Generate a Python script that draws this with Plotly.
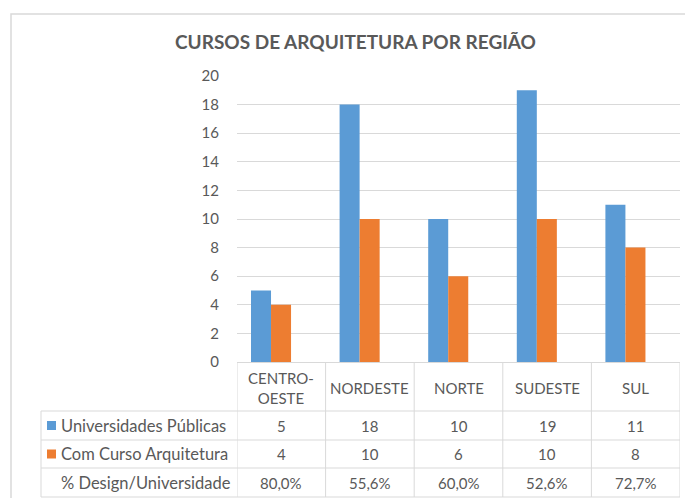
import plotly.graph_objects as go

# ---- data ----
categories = ["CENTRO-<br>OESTE", "NORDESTE", "NORTE", "SUDESTE", "SUL"]
universidades_publicas = [5, 18, 10, 19, 11]
com_curso_arquitetura = [4, 10, 6, 10, 8]
pct_design_universidade = ["80,0%", "55,6%", "60,0%", "52,6%", "72,7%"]
series_names = ["Universidades Públicas", "Com Curso Arquitetura", "% Design/Universidade"]
y_ticks = [0, 2, 4, 6, 8, 10, 12, 14, 16, 18, 20]
title_text = "CURSOS DE ARQUITETURA POR REGIÃO"

# ---- style ----
W, H = 685, 498
BLUE = "#5B9BD5"
ORANGE = "#ED7D31"
TXT = "#595959"
GRID = "#D9D9D9"
FONT = "Lato"

def px(x):
    return x / W

def py(y):
    return 1 - y / H

x_left, x_right = 237, 680
y_zero, y_top = 362, 76

fig = go.Figure()
xs = list(range(len(categories)))
fig.add_trace(go.Bar(x=xs, y=universidades_publicas, name=series_names[0],
                     marker=dict(color=BLUE, line=dict(width=0)),
                     offset=-0.342, width=0.226))
fig.add_trace(go.Bar(x=xs, y=com_curso_arquitetura, name=series_names[1],
                     marker=dict(color=ORANGE, line=dict(width=0)),
                     offset=-0.116, width=0.226))

shapes = []
annotations = []

# outer chart border
shapes.append(dict(type="rect", xref="paper", yref="paper",
                   x0=px(11), x1=px(692), y0=py(520), y1=py(14),
                   line=dict(color=GRID, width=1.5), layer="below"))

row_tops = [411, 440, 468, 497]
header_top = y_zero
tbl_left = 41

for yy in row_tops:
    shapes.append(dict(type="line", xref="paper", yref="paper",
                       x0=px(tbl_left), x1=px(x_right), y0=py(yy), y1=py(yy),
                       line=dict(color=GRID, width=1)))
shapes.append(dict(type="line", xref="paper", yref="paper",
                   x0=px(tbl_left), x1=px(tbl_left), y0=py(row_tops[0]), y1=py(row_tops[-1]),
                   line=dict(color=GRID, width=1)))
for i in range(len(categories) + 1):
    shapes.append(dict(type="line", xref="x", yref="paper",
                       x0=i - 0.5, x1=i - 0.5, y0=py(header_top), y1=py(row_tops[-1]),
                       line=dict(color=GRID, width=1)))

key_colors = [BLUE, ORANGE]
for r, c in enumerate(key_colors):
    yc = (row_tops[r] + row_tops[r + 1]) / 2
    shapes.append(dict(type="rect", xref="paper", yref="paper",
                       x0=px(47), x1=px(56), y0=py(yc - 4.5), y1=py(yc + 4.5),
                       fillcolor=c, line=dict(width=0)))

tfont = dict(family=FONT, size=15, color=TXT)
lfont = dict(family=FONT, size=16.5, color=TXT)

for i, c in enumerate(categories):
    annotations.append(dict(x=i, y=py((header_top + row_tops[0]) / 2 + 1), xref="x", yref="paper",
                            text=c, showarrow=False, font=tfont,
                            xanchor="center", yanchor="middle"))

rows = [universidades_publicas, com_curso_arquitetura, pct_design_universidade]
for r, vals in enumerate(rows):
    yc = (row_tops[r] + row_tops[r + 1]) / 2
    annotations.append(dict(x=px(59), y=py(yc), xref="paper", yref="paper",
                            text=series_names[r], showarrow=False, font=lfont,
                            xanchor="left", yanchor="middle"))
    for i, v in enumerate(vals):
        annotations.append(dict(x=i, y=py(yc), xref="x", yref="paper",
                                text=str(v), showarrow=False, font=tfont,
                                xanchor="center", yanchor="middle"))

annotations.append(dict(x=px(355), y=py(42), xref="paper", yref="paper",
                        text="<b>" + title_text + "</b>", showarrow=False,
                        font=dict(family=FONT, size=19, color=TXT),
                        xanchor="center", yanchor="middle"))

fig.update_layout(
    width=W, height=H, autosize=False,
    margin=dict(l=0, r=0, t=0, b=0, pad=0, autoexpand=False),
    paper_bgcolor="white", plot_bgcolor="white",
    showlegend=False,
    shapes=shapes, annotations=annotations,
    xaxis=dict(domain=[px(x_left), px(x_right)], range=[-0.5, len(categories) - 0.5],
               showticklabels=False, showgrid=False, zeroline=False, showline=False,
               automargin=False, fixedrange=True),
    yaxis=dict(domain=[py(y_zero), py(y_top)], range=[0, 20], tickvals=y_ticks,
               showgrid=True, gridcolor=GRID, gridwidth=1,
               zeroline=True, zerolinecolor=GRID, zerolinewidth=1,
               showline=False, ticks="", automargin=False,
               tickfont=dict(family=FONT, size=15, color=TXT),
               ticklabelstandoff=17, fixedrange=True),
)

fig.write_html("out.html", config={"displayModeBar": False, "responsive": False},
               post_script="document.body.style.margin='0';document.body.style.padding='0';document.body.style.overflow='hidden';")
